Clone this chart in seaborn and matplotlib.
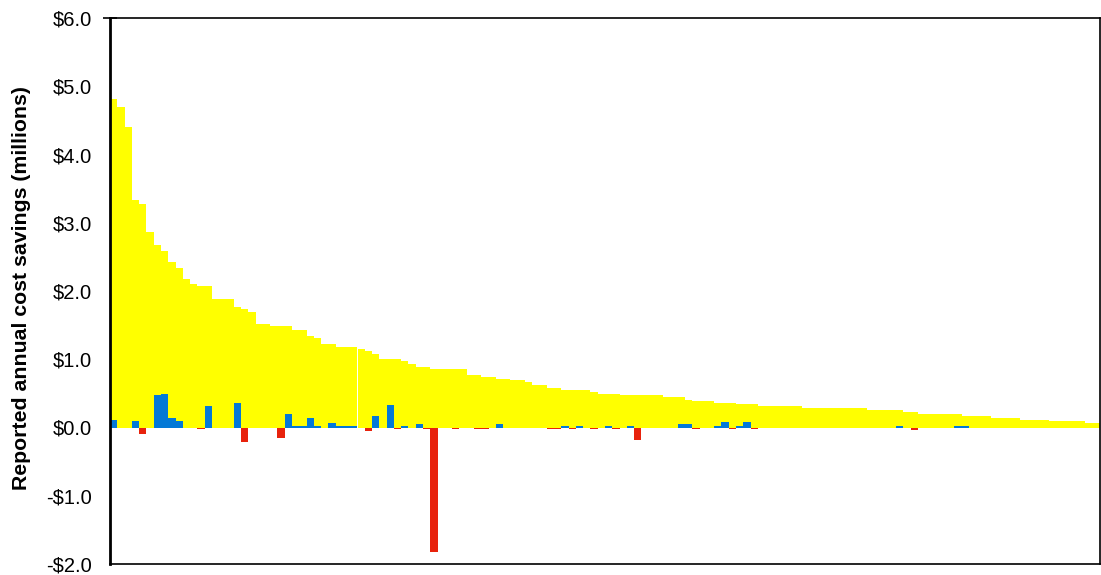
import numpy as np
import pandas as pd
import matplotlib
matplotlib.use("Agg")
import matplotlib.pyplot as plt
from matplotlib.ticker import FuncFormatter
import seaborn as sns

# reported annual cost savings per project, sorted descending (millions)
savings = [
    4.82, 4.69, 4.41, 3.33, 3.27, 2.86, 2.67, 2.59, 2.43, 2.34,
    2.18, 2.10, 2.07, 2.07, 1.89, 1.89, 1.89, 1.77, 1.74, 1.69,
    1.51, 1.51, 1.48, 1.48, 1.48, 1.43, 1.43, 1.34, 1.31, 1.23,
    1.23, 1.18, 1.18, 1.18, 1.15, 1.12, 1.07, 1.01, 1.01, 1.01,
    0.98, 0.93, 0.88, 0.88, 0.85, 0.85, 0.85, 0.85, 0.85, 0.77,
    0.77, 0.74, 0.74, 0.71, 0.71, 0.69, 0.69, 0.66, 0.63, 0.63,
    0.58, 0.58, 0.55, 0.55, 0.55, 0.55, 0.52, 0.49, 0.49, 0.49,
    0.47, 0.47, 0.47, 0.47, 0.47, 0.47, 0.44, 0.44, 0.44, 0.41,
    0.39, 0.39, 0.39, 0.36, 0.36, 0.36, 0.34, 0.34, 0.34, 0.31,
    0.31, 0.31, 0.31, 0.31, 0.31, 0.28, 0.28, 0.28, 0.28, 0.28,
    0.28, 0.28, 0.28, 0.28, 0.25, 0.25, 0.25, 0.25, 0.25, 0.22,
    0.22, 0.20, 0.20, 0.20, 0.20, 0.20, 0.20, 0.17, 0.17, 0.17,
    0.17, 0.14, 0.14, 0.14, 0.14, 0.11, 0.11, 0.11, 0.11, 0.09,
    0.09, 0.09, 0.09, 0.09, 0.06, 0.06,
]

# second series (positive = blue, negative = red), sparse: index -> value
change_idx = [0, 3, 4, 6, 7, 8, 9, 12, 13, 17, 18, 23, 24, 25, 26, 27, 28, 30, 31,
              32, 33, 34, 35, 36, 38, 39, 40, 42, 43, 44, 47, 50, 51, 53, 60, 61, 62,
              63, 64, 66, 68, 69, 71, 72, 78, 79, 80, 83, 84, 85, 86, 87, 88,
              108, 110, 116, 117]
change_val = [0.11, 0.09, -0.10, 0.47, 0.49, 0.14, 0.09, -0.02, 0.31, 0.36, -0.21, -0.15, 0.20, 0.02, 0.02, 0.14, 0.02, 0.06, 0.02,
              0.02, 0.02, -0.01, -0.05, 0.17, 0.33, -0.02, 0.02, 0.05, -0.02, -1.82, -0.02, -0.02, -0.02, 0.05, -0.02, -0.02, 0.02,
              -0.02, 0.02, -0.02, 0.02, -0.02, 0.02, -0.18, 0.05, 0.05, -0.02, 0.02, 0.08, -0.02, 0.02, 0.08, -0.02,
              0.02, -0.03, 0.02, 0.02]

yticks = [-2, -1, 0, 1, 2, 3, 4, 5, 6]

def money_formatter(x, pos):
    return '-${:.1f}'.format(-x) if x < 0 else '${:.1f}'.format(x)

df1 = pd.DataFrame({'project': np.arange(len(savings)), 'savings': savings})
df2 = pd.DataFrame({'project': change_idx, 'change': change_val})
df2['sign'] = np.where(df2['change'] < 0, 'neg', 'pos')

sns.set_style("white")
plt.rcParams['font.family'] = ['Liberation Sans', 'DejaVu Sans']

fig = plt.figure(figsize=(11.01, 5.75), dpi=100)
ax = fig.add_axes([110 / 1101, 11 / 575, 990 / 1101, 546 / 575])

sns.barplot(data=df1, x='project', y='savings', color='#FFFF00', saturation=1,
            width=1.0, native_scale=True, linewidth=0, ax=ax)
sns.barplot(data=df2, x='project', y='change', hue='sign',
            palette={'pos': '#0479D6', 'neg': '#E8220C'}, saturation=1,
            width=1.0, native_scale=True, dodge=False, linewidth=0,
            legend=False, ax=ax)

ax.set_xlim(-0.5, len(savings) - 0.5)
ax.set_ylim(-2, 6)
ax.set_yticks(yticks)
ax.yaxis.set_major_formatter(FuncFormatter(money_formatter))
# little tick mark at the top, like the original
ax.yaxis.remove_overlapping_locs = False
ax.set_yticks([6], minor=True)
ax.tick_params(axis='y', which='major', length=0, pad=13, labelsize=14.5, labelcolor='black')
ax.tick_params(axis='y', which='minor', left=True, length=10, width=1.2,
               direction='inout', color='black')
ax.set_xticks([])
ax.set_xlabel('')
ax.set_ylabel('Reported annual cost savings (millions)', fontsize=15.3, fontweight='bold', color='black')
ax.yaxis.set_label_coords(-0.08, 0.506)

for side in ['left', 'right', 'top', 'bottom']:
    ax.spines[side].set_visible(True)
    ax.spines[side].set_color('black')
    ax.spines[side].set_linewidth(1.2)
ax.spines['left'].set_linewidth(2)

plt.savefig('out.png', dpi=100)
